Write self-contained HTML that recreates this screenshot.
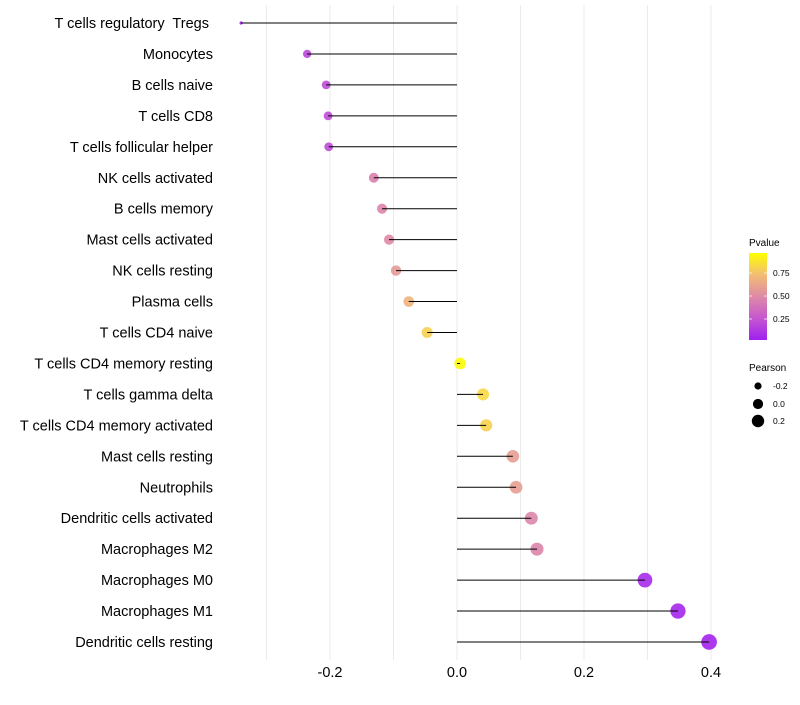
<!DOCTYPE html>
<html><head><meta charset="utf-8"><style>
body{margin:0;background:#fff;font-family:"Liberation Sans",sans-serif}
svg text{font-family:"Liberation Sans",sans-serif;white-space:pre}
</style></head><body>
<svg id="chart" width="800" height="700" xmlns="http://www.w3.org/2000/svg">
<defs><linearGradient id="pg" x1="0" y1="1" x2="0" y2="0">
<stop offset="0" stop-color="#a020f0"/><stop offset="0.25" stop-color="#c557cf"/><stop offset="0.5" stop-color="#de8aa6"/><stop offset="0.75" stop-color="#f2bd73"/><stop offset="1" stop-color="#ffff00"/></linearGradient></defs>
<g id="grid"></g><g id="marks"></g><g id="ylab"></g><g id="xlab"></g>
<g>
<text x="749" y="246" font-size="10" fill="#000">Pvalue</text>
<rect x="749" y="253" width="18" height="87" fill="url(#pg)"/>
<line x1="749" x2="752" y1="273" y2="273" stroke="#fff" opacity="0.7"/><line x1="764" x2="767" y1="273" y2="273" stroke="#fff" opacity="0.7"/>
<line x1="749" x2="752" y1="296" y2="296" stroke="#fff" opacity="0.7"/><line x1="764" x2="767" y1="296" y2="296" stroke="#fff" opacity="0.7"/>
<line x1="749" x2="752" y1="319" y2="319" stroke="#fff" opacity="0.7"/><line x1="764" x2="767" y1="319" y2="319" stroke="#fff" opacity="0.7"/>
<text x="773" y="276" font-size="8.5">0.75</text><text x="773" y="299" font-size="8.5">0.50</text><text x="773" y="322" font-size="8.5">0.25</text>
</g>
<g>
<text x="749" y="371" font-size="10" fill="#000">Pearson</text>
<circle cx="758" cy="386" r="3.6"/><text x="773" y="389" font-size="8.5">-0.2</text>
<circle cx="758" cy="404" r="5.1"/><text x="773" y="407" font-size="8.5">0.0</text>
<circle cx="758" cy="421" r="6.2"/><text x="773" y="424" font-size="8.5">0.2</text>
</g>
</svg>
<script>
const categories=["T cells regulatory  Tregs ","Monocytes","B cells naive","T cells CD8","T cells follicular helper","NK cells activated","B cells memory","Mast cells activated","NK cells resting","Plasma cells","T cells CD4 naive","T cells CD4 memory resting","T cells gamma delta","T cells CD4 memory activated","Mast cells resting","Neutrophils","Dendritic cells activated","Macrophages M2","Macrophages M0","Macrophages M1","Dendritic cells resting"];
const pearson=[-0.340,-0.236,-0.206,-0.203,-0.202,-0.131,-0.118,-0.107,-0.096,-0.076,-0.047,0.005,0.041,0.046,0.088,0.093,0.117,0.126,0.296,0.348,0.397];
const pvalues=[0.02,0.18,0.2,0.2,0.2,0.45,0.47,0.5,0.58,0.7,0.82,0.99,0.85,0.83,0.6,0.6,0.48,0.47,0.05,0.03,0.02];
const xTicks=[-0.2,0,0.2,0.4];
const xTickLabels=["-0.2","0.0","0.2","0.4"];
const xGrid=[-0.3,-0.2,-0.1,0,0.1,0.2,0.3,0.4];
const NS="http://www.w3.org/2000/svg";
const x=v=>457+v*635;
const y=i=>23+i*30.95;
const rad=v=>{const a=55.8*(v+0.236)+13.7;return a<9?1.6:1.12*Math.sqrt(a);};
const stops=[[0,[160,32,240]],[0.25,[197,87,207]],[0.5,[222,138,166]],[0.75,[242,189,115]],[1,[255,255,0]]];
function col(p){for(let k=1;k<stops.length;k++){if(p<=stops[k][0]){const a=stops[k-1],b=stops[k],t=(p-a[0])/(b[0]-a[0]);return "rgb("+a[1].map((c,j)=>Math.round(c+(b[1][j]-c)*t)).join(",")+")";}}return "rgb(255,255,0)";}
function mk(t,attrs,parent){const e=document.createElementNS(NS,t);for(const k in attrs)e.setAttribute(k,attrs[k]);parent.appendChild(e);return e;}
const grid=document.getElementById('grid'),marks=document.getElementById('marks'),yl=document.getElementById('ylab'),xl=document.getElementById('xlab');
xGrid.forEach(v=>{const l=mk('line',{x1:x(v),x2:x(v),y1:5,y2:660,stroke:'#ebebeb','stroke-width':1},grid);

});
categories.forEach((c,i)=>{
 const t=mk('text',{x:213,y:y(i)+5,'text-anchor':'end','font-size':14.5,fill:'#000'},yl);t.textContent=c;
 
 
 const d=mk('circle',{cx:x(pearson[i]),cy:y(i),r:rad(pearson[i]),fill:col(pvalues[i]),opacity:0.9},marks);
 
 
 const s=mk('line',{x1:x(0),x2:x(pearson[i]),y1:y(i),y2:y(i),stroke:'#000','stroke-width':1},marks);
 
 
});
xTicks.forEach((v,i)=>{const t=mk('text',{x:x(v),y:677,'text-anchor':'middle','font-size':14.5,fill:'#000'},xl);t.textContent=xTickLabels[i];

});
</script>
</body></html>
